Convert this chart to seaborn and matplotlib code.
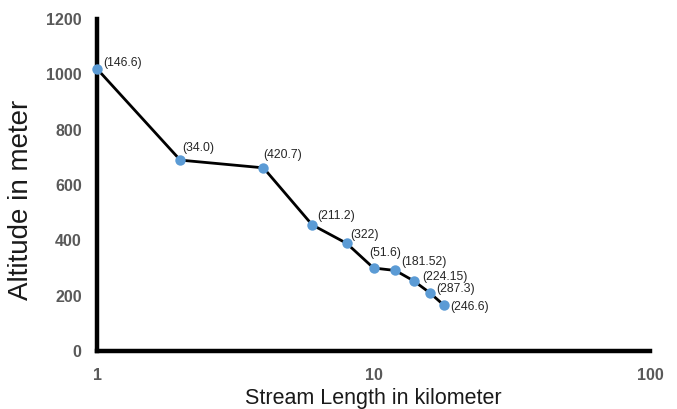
import matplotlib
matplotlib.use("Agg")
import matplotlib.pyplot as plt
import seaborn as sns
import pandas as pd
from matplotlib.ticker import FixedLocator, NullLocator

# Data
stream_length_km = [1, 2, 4, 6, 8, 10, 12, 14, 16, 18]
altitude_m = [1020, 690, 662, 456, 389, 300, 291, 253, 210, 165]
point_labels = ["(146.6)", "(34.0)", "(420.7)", "(211.2)", "(322)", "(51.6)",
                "(181.52)", "(224.15)", "(287.3)", "(246.6)"]
x_ticks = [1, 10, 100]
x_tick_labels = ["1", "10", "100"]
y_ticks = [0, 200, 400, 600, 800, 1000, 1200]

# label offsets in pixels (dx, dy) - styling only
label_offsets_px = [(6, 6), (2, 12), (0, 13), (5, 9), (4, 8), (-4, 15),
                    (6, 8), (8, 4), (6, 4), (6, -2)]

sns.set_style("white")
plt.rcParams['font.family'] = ['Liberation Sans', 'DejaVu Sans']

fig = plt.figure(figsize=(6.77, 4.09), dpi=100)
ax = fig.add_axes([97/677, 1 - 351/409, (650 - 97)/677, (351 - 19)/409])

df = pd.DataFrame({"x": stream_length_km, "y": altitude_m})
sns.lineplot(data=df, x="x", y="y", ax=ax, color="black", linewidth=2.0,
             marker="o", markersize=7.5, markerfacecolor="#5B9BD5",
             markeredgecolor="#5B9BD5", markeredgewidth=0, zorder=4)
for ln in ax.lines:
    ln.set_clip_on(False)

for xv, yv, lab, (dx, dy) in zip(stream_length_km, altitude_m, point_labels, label_offsets_px):
    ax.annotate(lab, (xv, yv), xytext=(dx * 0.72, dy * 0.72), textcoords="offset points",
                ha="left", va="center", fontsize=8.8, color="#262626")

ax.set_xscale("log")
ax.set_xlim(1, 100)
ax.set_ylim(0, 1200)
ax.xaxis.set_major_locator(FixedLocator(x_ticks))
ax.xaxis.set_minor_locator(NullLocator())
ax.set_xticklabels(x_tick_labels)
ax.set_yticks(y_ticks)

ax.tick_params(axis="both", length=0, labelsize=11.5, labelcolor="#595959")
ax.tick_params(axis="y", pad=11)
ax.tick_params(axis="x", pad=12)
for lab in ax.get_xticklabels() + ax.get_yticklabels():
    lab.set_fontweight("bold")

for side in ["top", "right"]:
    ax.spines[side].set_visible(False)
for side in ["left", "bottom"]:
    ax.spines[side].set_color("black")
    ax.spines[side].set_linewidth(3.2)
    ax.spines[side].set_zorder(2)

ax.set_xlabel("Stream Length in kilometer", fontsize=15.5, color="#1a1a1a", labelpad=4)
ax.set_ylabel("Altitude in meter", fontsize=20, color="#1a1a1a")
ax.yaxis.set_label_coords(-(97 - 34) / 553, (351 - 200) / 332)

fig.savefig("out.png", dpi=100)
